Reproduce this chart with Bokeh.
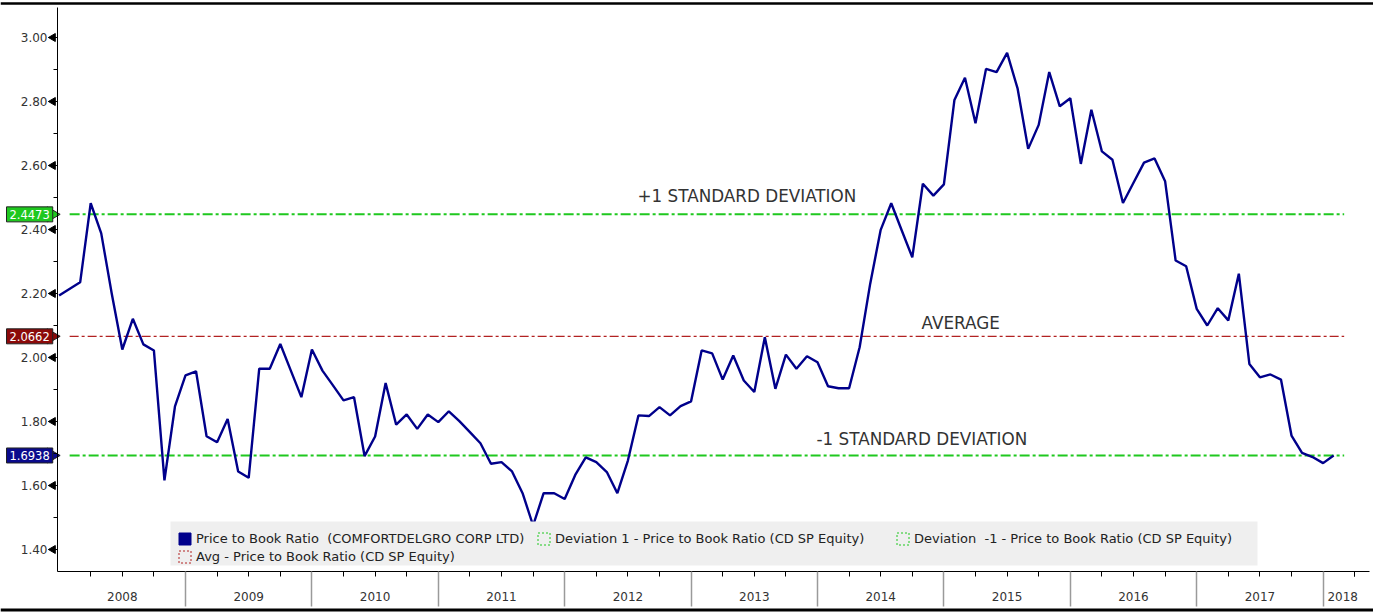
import math
import pandas as pd
from bokeh.plotting import figure
from bokeh.models import (FixedTicker, Label, Legend, LegendItem, Range1d, Span, LinearAxis,
                          PrintfTickFormatter, CustomJSTickFormatter, BoxAnnotation)
from bokeh.embed import file_html
from bokeh.resources import INLINE

# ---------------- data ----------------
months = pd.date_range("2008-01-01", "2018-02-01", freq="MS").drop(pd.Timestamp("2008-02-01"))
pb_ratio = [
    2.194, 2.235, 2.482, 2.388, 2.199, 2.025, 2.121, 2.041, 2.022, 1.616, 1.847,          # 2008 (no Feb)
    1.944, 1.957, 1.754, 1.735, 1.808, 1.644, 1.624, 1.965, 1.965, 2.042, 1.959, 1.876,   # 2009
    2.025, 1.959, 1.913, 1.866, 1.876, 1.692, 1.753, 1.920, 1.790, 1.822, 1.777, 1.822,   # 2010
    1.798, 1.832, 1.801, 1.767, 1.732, 1.668, 1.673, 1.644, 1.576, 1.475, 1.576, 1.576,   # 2011
    1.558, 1.633, 1.688, 1.673, 1.642, 1.576, 1.678, 1.819, 1.817, 1.845, 1.819, 1.848,   # 2012
    1.863, 2.022, 2.013, 1.931, 2.006, 1.928, 1.892, 2.063, 1.902, 2.009, 1.965, 2.004,   # 2013
    1.985, 1.910, 1.904, 1.904, 2.032, 2.230, 2.399, 2.482, 2.397, 2.313, 2.543, 2.506,   # 2014
    2.541, 2.805, 2.874, 2.732, 2.902, 2.892, 2.952, 2.840, 2.652, 2.727, 2.892, 2.785,   # 2015
    2.810, 2.605, 2.774, 2.644, 2.618, 2.483, 2.546, 2.609, 2.622, 2.551, 2.303, 2.285,   # 2016
    2.152, 2.100, 2.154, 2.116, 2.262, 1.980, 1.938, 1.947, 1.931, 1.756, 1.702, 1.689,   # 2017
    1.670, 1.694,                                                                          # 2018
]
avg_level = 2.0662
plus1_level = 2.4473
minus1_level = 1.6938
band_span = ["2008-02-01", "2018-03-01"]
years = list(range(2008, 2019))
y_ticks = [1.4, 1.6, 1.8, 2.0, 2.2, 2.4, 2.6, 2.8, 3.0]
y_minor = [1.5, 1.7, 1.9, 2.1, 2.3, 2.5, 2.7, 2.9]
legend_labels = [
    "Price to Book Ratio  (COMFORTDELGRO CORP LTD)",
    "Deviation 1 - Price to Book Ratio (CD SP Equity)",
    "Deviation  -1 - Price to Book Ratio (CD SP Equity)",
    "Avg - Price to Book Ratio (CD SP Equity)",
]


def frac_year(ts):
    ts = pd.Timestamp(ts)
    return ts.year + (ts.month - 1) / 12.0 + (ts.day - 1) / 365.0


x = [frac_year(m) for m in months]
bx = [frac_year(d) for d in band_span]

# ---------------- layout helpers (canvas pixel -> data) ----------------
W, H = 1373, 612
PX0, PXY = 58.6, 126.4          # x pixel of 2008.0, pixels per year
PY3, PYU = 37.0, 320.0          # y pixel of 3.00, pixels per unit


def tx(px):
    return 2008 + (px - PX0) / PXY


def vy(py):
    return 3 - (py - PY3) / PYU


FONT = "DejaVu Sans"
NAVY = "#00008b"
GREEN = "#1fc81f"
RED = "#b22222"
TXT = "#333333"

p = figure(width=W, height=H, output_backend="svg", toolbar_location=None,
           x_range=Range1d(tx(0), tx(W)), y_range=Range1d(vy(H), vy(0)),
           min_border_left=0, min_border_right=0, min_border_top=0, min_border_bottom=0)
p.grid.visible = False
p.outline_line_color = None
p.background_fill_color = "white"
p.border_fill_color = "white"

x_axis_pos = vy(571)
y_axis_pos = tx(57)

# y axis
ya = p.yaxis[0]
ya.fixed_location = y_axis_pos
ya.bounds = (vy(571), vy(7))
ya.ticker = FixedTicker(ticks=y_ticks, minor_ticks=y_minor)
ya.formatter = PrintfTickFormatter(format="%.2f")
ya.major_label_text_font = FONT
ya.major_label_text_font_size = "12px"
ya.major_label_text_color = TXT
ya.major_tick_out = 9
ya.major_tick_in = 0
ya.major_tick_line_width = 1
ya.major_tick_line_color = "black"
ya.minor_tick_out = 4
ya.minor_tick_in = 0
ya.minor_tick_line_color = "black"
ya.axis_line_color = "black"
ya.major_label_standoff = 1

# triangular tick markers (pointing left) on the y axis
p.scatter(x=[tx(52.5)] * len(y_ticks), y=y_ticks, marker="triangle", angle=math.pi / 2,
          size=8, fill_color="black", line_color="black")

# x axis A: year boundaries + quarterly ticks
xa = p.xaxis[0]
xa.fixed_location = x_axis_pos
xa.bounds = (tx(57), tx(1369))
bounds = years[1:]
quarters = [y + q / 4 for y in years for q in (1, 2, 3)] + [2018.25]
xa.ticker = FixedTicker(ticks=bounds, minor_ticks=quarters)
xa.formatter = CustomJSTickFormatter(code="return ''")
xa.major_label_text_font_size = "1px"
xa.major_label_standoff = 0
xa.major_tick_out = 35
xa.major_tick_in = 0
xa.major_tick_line_color = "#9a9a9a"
xa.major_tick_line_width = 1.5
xa.minor_tick_out = 5
xa.minor_tick_in = 0
xa.minor_tick_line_color = "black"
xa.axis_line_color = "black"

# x axis B: year names centred in each year
label_pos = [y + 0.5 for y in years[:-1]] + [2018.155]
xb = LinearAxis(fixed_location=x_axis_pos, ticker=FixedTicker(ticks=label_pos, minor_ticks=[]),
                formatter=CustomJSTickFormatter(code="return String(Math.floor(tick))"),
                major_tick_out=0, major_tick_in=0, minor_tick_out=0, minor_tick_in=0,
                axis_line_color=None, major_label_standoff=20,
                major_label_text_font=FONT, major_label_text_font_size="12px",
                major_label_text_color=TXT)
p.add_layout(xb, "below")

# reference levels
p.line(bx, [plus1_level, plus1_level], line_color=GREEN, line_width=2, line_dash="10 3 3 3")
p.line(bx, [minus1_level, minus1_level], line_color=GREEN, line_width=2, line_dash="10 3 3 3")
p.line(bx, [avg_level, avg_level], line_color=RED, line_width=1.2, line_dash="9 3 3 3")

# main series
p.line(x, pb_ratio, line_color=NAVY, line_width=2.4)

# text annotations
for px_, py_, tt in [(637, 195, "+1 STANDARD DEVIATION"),
                     (921, 322, "AVERAGE"),
                     (816, 438, "-1 STANDARD DEVIATION")]:
    p.add_layout(Label(x=tx(px_), y=vy(py_), text=tt, text_font=FONT, text_font_size="16.8px",
                       text_color=TXT, text_baseline="middle"))

# value tags on the left
tag_cols = [GREEN, "#8b0a0a", "#0a0a8c"]
tag_levels = [plus1_level, avg_level, minus1_level]
p.scatter(x=[tx(51)] * 3, y=tag_levels, marker="triangle", angle=-math.pi / 2, size=15,
          fill_color=tag_cols, line_color="#222222", line_width=1)
for lvl, col in zip(tag_levels, tag_cols):
    p.add_layout(Label(x=tx(6), y=lvl, text=f"{lvl:.4f}", text_font=FONT,
                       text_font_size="11.5px", text_color="white", text_baseline="middle",
                       background_fill_color=col, border_line_color="#222222",
                       padding=3))

# top / bottom border lines
p.add_layout(Span(location=vy(3), dimension="width", line_color="black", line_width=2.5))
p.add_layout(Span(location=vy(609.5), dimension="width", line_color="black", line_width=3))

# legend background
p.add_layout(BoxAnnotation(left=tx(170), right=tx(1257), top=vy(521), bottom=vy(565),
                           fill_color="#efefef", fill_alpha=1.0, line_color=None))

# legend
far = dict(left=[1900], right=[1901], top=[0], bottom=[0])
r_price = p.quad(**far, fill_color=NAVY, line_color=NAVY)
r_dev1 = p.quad(**far, fill_color=None, line_color=GREEN, line_dash="2 2")
r_devm1 = p.quad(**far, fill_color=None, line_color=GREEN, line_dash="2 2")
r_avg = p.quad(**far, fill_color=None, line_color=RED, line_dash="2 2")
legend = Legend(items=[LegendItem(label=legend_labels[0], renderers=[r_price]),
                       LegendItem(label=legend_labels[1], renderers=[r_dev1]),
                       LegendItem(label=legend_labels[2], renderers=[r_devm1]),
                       LegendItem(label=legend_labels[3], renderers=[r_avg])],
                location=(177, H - 564), orientation="horizontal", ncols=3,
                background_fill_alpha=0.0,
                border_line_color=None, label_text_font=FONT, label_text_font_size="13px",
                label_text_color="#222222", glyph_width=15, glyph_height=15,
                label_standoff=4, spacing=3, padding=0, margin=0,
                label_height=14, label_width=337)
p.add_layout(legend)

open("out.html", "w").write(file_html(p, INLINE))
